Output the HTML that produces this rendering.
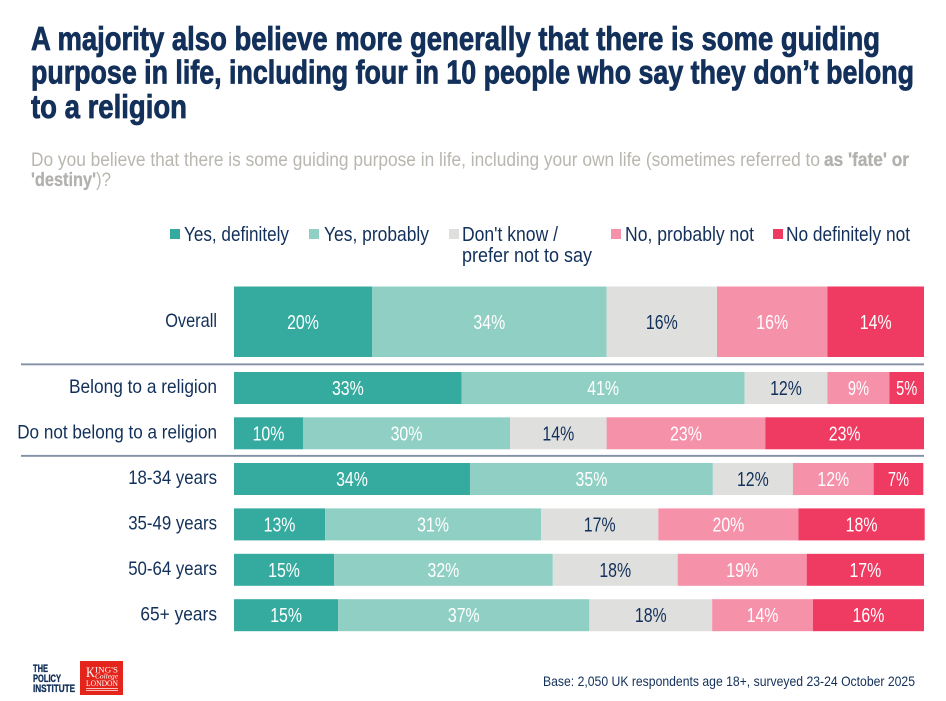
<!DOCTYPE html>
<html lang="en">
<head>
<meta charset="utf-8">
<title>Guiding purpose in life</title>
<style>
html,body{margin:0;padding:0;background:#fff;width:946px;height:701px;overflow:hidden}
svg{display:block}
text{font-family:"Liberation Sans Narrow","Liberation Sans",sans-serif}
text.serif{font-family:"Liberation Serif",serif}
</style>
</head>
<body>
<svg id="chart" width="946" height="701" viewBox="0 0 946 701" xmlns="http://www.w3.org/2000/svg">
  <rect width="946" height="701" fill="#fff"/>
  <g fill="#12305a" stroke="#12305a" stroke-width="0.8" font-weight="700" font-size="33">
    <text x="31" y="50" textLength="849" lengthAdjust="spacingAndGlyphs">A majority also believe more generally that there is some guiding</text>
    <text x="31" y="83.5" textLength="883" lengthAdjust="spacingAndGlyphs">purpose in life, including four in 10 people who say they don’t belong</text>
    <text x="31" y="118" textLength="156" lengthAdjust="spacingAndGlyphs">to a religion</text>
  </g>
  <g fill="#b9b6af" font-size="19">
    <text x="31" y="166" textLength="789" lengthAdjust="spacingAndGlyphs">Do you believe that there is some guiding purpose in life, including your own life (sometimes referred to</text>
    <text x="824" y="166" font-weight="700" fill="#b2b1ad" stroke="#b2b1ad" stroke-width="0.3" textLength="85" lengthAdjust="spacingAndGlyphs">as 'fate' or</text>
    <text x="31" y="186" font-weight="700" fill="#b2b1ad" stroke="#b2b1ad" stroke-width="0.3" textLength="65" lengthAdjust="spacingAndGlyphs">'destiny'</text>
    <text x="96" y="186" textLength="15" lengthAdjust="spacingAndGlyphs">)?</text>
  </g>
  <g fill="#12305a" font-size="20">
    <rect x="170" y="229" width="10" height="10" fill="#35aba0"/>
    <text x="184" y="241" textLength="105" lengthAdjust="spacingAndGlyphs">Yes, definitely</text>
    <rect x="309" y="229" width="10" height="10" fill="#90cfc4"/>
    <text x="324" y="241" textLength="105" lengthAdjust="spacingAndGlyphs">Yes, probably</text>
    <rect x="449" y="229" width="10" height="10" fill="#dfdfdd"/>
    <text x="462" y="241" textLength="96" lengthAdjust="spacingAndGlyphs">Don't know /</text>
    <text x="462" y="262" textLength="130" lengthAdjust="spacingAndGlyphs">prefer not to say</text>
    <rect x="611" y="229" width="10" height="10" fill="#f691aa"/>
    <text x="625" y="241" textLength="129" lengthAdjust="spacingAndGlyphs">No, probably not</text>
    <rect x="773" y="229" width="10" height="10" fill="#ef3a62"/>
    <text x="786" y="241" textLength="124" lengthAdjust="spacingAndGlyphs">No definitely not</text>
  </g>
  <g id="bars"></g>
  <rect x="21" y="363.4" width="903" height="1.9" fill="#8291a5"/>
  <rect x="21" y="454.9" width="903" height="1.9" fill="#8291a5"/>
  <g fill="#12305a" stroke="#12305a" stroke-width="0.35" font-weight="700" font-size="11">
    <text x="33" y="672" textLength="15" lengthAdjust="spacingAndGlyphs">THE</text>
    <text x="33" y="682" textLength="28" lengthAdjust="spacingAndGlyphs">POLICY</text>
    <text x="33" y="692" textLength="42" lengthAdjust="spacingAndGlyphs">INSTITUTE</text>
  </g>
  <g>
    <rect x="80" y="661" width="43" height="34" fill="#e4251b"/>
    <g fill="#fff">
      <text class="serif" x="86" y="677" font-size="15" textLength="9" lengthAdjust="spacingAndGlyphs">K</text>
      <text class="serif" x="95" y="672.5" font-size="8.5" textLength="23" lengthAdjust="spacingAndGlyphs">ING'S</text>
      <text class="serif" x="95" y="678.5" font-size="7.5" font-style="italic" textLength="23" lengthAdjust="spacingAndGlyphs">College</text>
      <text class="serif" x="86" y="686" font-size="8" textLength="32" lengthAdjust="spacingAndGlyphs">LONDON</text>
      <rect x="86" y="688" width="32" height="0.7"/>
      <rect x="86" y="690" width="32" height="0.7"/>
    </g>
  </g>
  <text x="543" y="686" fill="#12305a" font-size="14" textLength="372" lengthAdjust="spacingAndGlyphs">Base: 2,050 UK respondents age 18+, surveyed 23-24 October 2025</text>
</svg>
<script>
var categories = ['Overall', 'Belong to a religion', 'Do not belong to a religion', '18-34 years', '35-49 years', '50-64 years', '65+ years'];
var seriesNames = ['yes-definitely', 'yes-probably', 'dont-know', 'no-probably', 'no-definitely'];
var yesDefinitely = [20, 33, 10, 34.2, 13.2, 14.5, 15.1];
var yesProbably = [34, 41, 30, 35.2, 31.3, 31.7, 36.4];
var dontKnow = [16, 12, 14, 11.6, 17, 18.1, 17.8];
var noProbably = [16, 9, 23, 11.7, 20.3, 18.7, 14.6];
var noDefinitely = [14, 5, 23, 7.2, 18.3, 17, 16.1];
var printedDefinitely = ['20%', '33%', '10%', '34%', '13%', '15%', '15%'];
var printedProbably = ['34%', '41%', '30%', '35%', '31%', '32%', '37%'];
var printedDontKnow = ['16%', '12%', '14%', '12%', '17%', '18%', '18%'];
var printedNoProbably = ['16%', '9%', '23%', '12%', '20%', '19%', '14%'];
var printedNoDefinitely = ['14%', '5%', '23%', '7%', '18%', '17%', '16%'];

(function () {
  var NS = 'http://www.w3.org/2000/svg';
  var series = [yesDefinitely, yesProbably, dontKnow, noProbably, noDefinitely];
  var printed = [printedDefinitely, printedProbably, printedDontKnow, printedNoProbably, printedNoDefinitely];
  var colors = ['#35aba0', '#90cfc4', '#dfdfdd', '#f691aa', '#ef3a62'];
  var inks = ['#fff', '#fff', '#12305a', '#fff', '#fff'];
  var root = document.getElementById('bars');
  var plotLeft = 234, plotWidth = 690;

  function xScale(v) { return plotLeft + v / 100 * plotWidth; }
  function rowBand(i) {
    if (i === 0) return { y: 286.5, h: 70.5 };
    if (i < 3) return { y: 372 + (i - 1) * 45.3, h: 32 };
    return { y: 463 + (i - 3) * 45.4, h: 32 };
  }
  function textWidth(str, letterWidth) {
    var w = 0;
    for (var k = 0; k < str.length; k++) {
      var c = str.charAt(k);
      if (c >= '0' && c <= '9') w += 9.6;
      else if (c === '-') w += 6;
      else if (c === '+') w += 13;
      else w += letterWidth;
    }
    return w;
  }

  categories.forEach(function (cat, i) {
    var band = rowBand(i);
    var label = document.createElementNS(NS, 'text');
    
    
    label.setAttribute('x', 217);
    label.setAttribute('y', band.y + band.h / 2 + 5.2);
    label.setAttribute('text-anchor', 'end');
    label.setAttribute('fill', '#12305a');
    label.setAttribute('font-size', '19.5');
    label.textContent = cat;
    label.setAttribute('textLength', textWidth(cat, 7.4).toFixed(1));
    label.setAttribute('lengthAdjust', 'spacingAndGlyphs');
    root.appendChild(label);

    var total = 0;
    series.forEach(function (vals, s) {
      var v = vals[i];
      var x0 = xScale(total), x1 = xScale(total + v);
      total += v;
      var r = document.createElementNS(NS, 'rect');
      
      
      r.setAttribute('data-series', seriesNames[s]);
      r.setAttribute('x', x0);
      r.setAttribute('y', band.y);
      r.setAttribute('width', x1 - x0);
      r.setAttribute('height', band.h);
      r.setAttribute('fill', colors[s]);
      root.appendChild(r);

      var t = document.createElementNS(NS, 'text');
      
      
      t.setAttribute('x', (x0 + x1) / 2);
      t.setAttribute('y', band.y + band.h / 2 + 7);
      t.setAttribute('text-anchor', 'middle');
      t.setAttribute('fill', inks[s]);
      t.setAttribute('font-size', '20');
      t.textContent = printed[s][i];
      t.setAttribute('textLength', (t.textContent.length * 10.6).toFixed(1));
      t.setAttribute('lengthAdjust', 'spacingAndGlyphs');
      root.appendChild(t);
    });
  });
})();
</script>
</body>
</html>
